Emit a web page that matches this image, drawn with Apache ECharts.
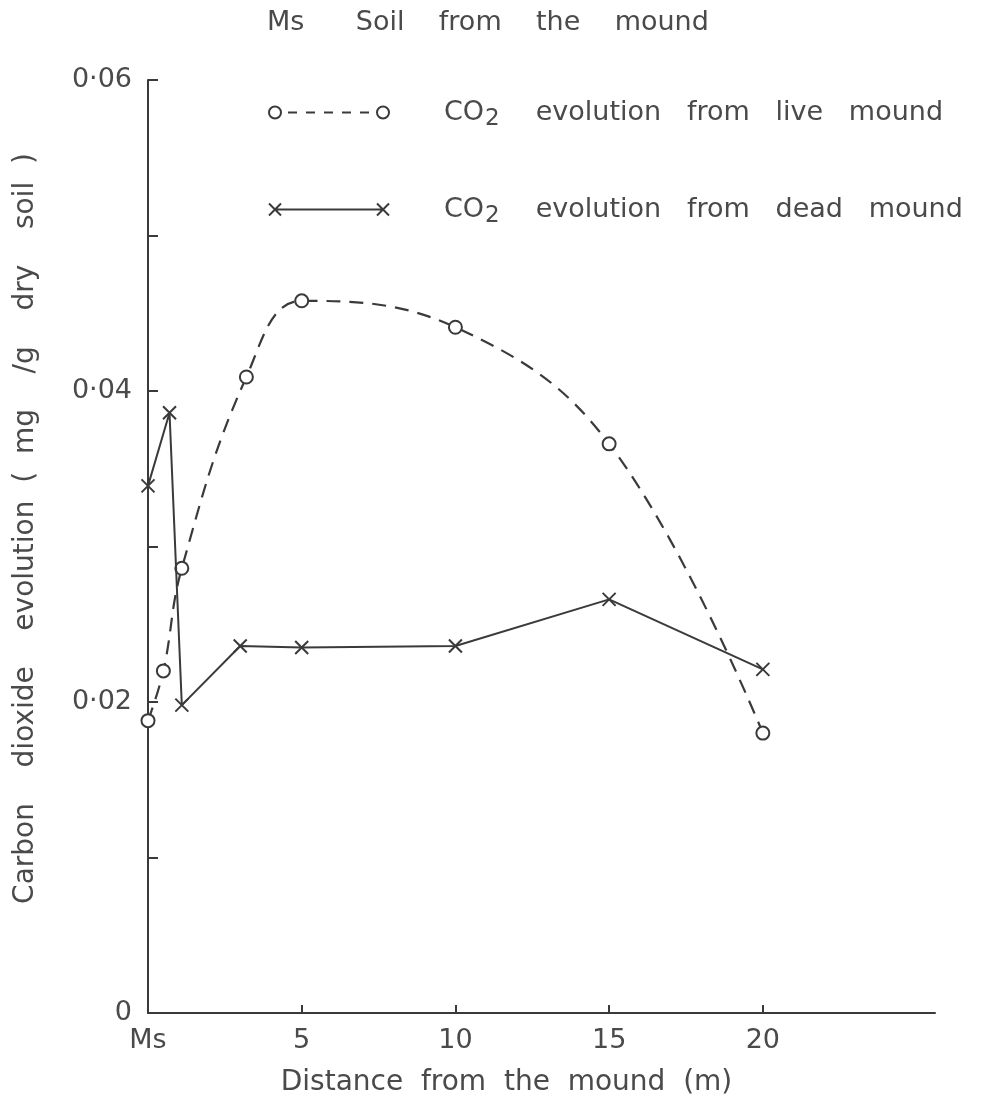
<!DOCTYPE html>
<html>
<head>
<meta charset="utf-8">
<title>Carbon dioxide evolution vs distance from the mound</title>
<script src="https://cdn.jsdelivr.net/npm/echarts@6/dist/echarts.min.js"></script>
<style>
  html, body { margin: 0; padding: 0; background: #ffffff; }
  #chart { width: 989px; height: 1112px; }
</style>
</head>
<body>
<div id="chart"></div>
<script>
// Distances (m) from the mound; 0 is the mound soil itself (Ms)
const distLive = [0, 0.5, 1.1, 3.2, 5, 10, 15, 20];
const co2Live  = [0.0188, 0.0220, 0.0286, 0.0409, 0.0458, 0.0441, 0.0366, 0.0180];

const distDead = [0, 0.7, 1.1, 3.0, 5, 10, 15, 20];
const co2Dead  = [0.0339, 0.0386, 0.0198, 0.0236, 0.0235, 0.0236, 0.0266, 0.0221];

const seriesNames = ['CO2 evolution from live mound', 'CO2 evolution from dead mound'];
const legendTails = ['evolution   from   live   mound', 'evolution   from   dead   mound'];

const xTickValues  = [5, 10, 15, 20];
const xLabelValues = [0, 5, 10, 15, 20];
const xLabelText   = ['Ms', '5', '10', '15', '20'];
const yLabelValues = [0, 0.02, 0.04, 0.06];
const yLabelText   = ['0', '0·02', '0·04', '0·06'];

const titleText = 'Ms      Soil    from    the    mound';
const xName = 'Distance  from  the  mound  (m)';
const yName = 'Carbon    dioxide    evolution  (  mg    /g    dry    soil  )';

const INK = '#3a3a3a';
const TEXT = '#4a4a4a';
const FONT = 'DejaVu Sans';

function pairs(xs, ys) { return xs.map((x, i) => [x, ys[i]]); }

// legend keys: open circles joined by dashes, and crosses joined by a line
const iconLive = 'path://M0 6 A6 6 0 1 1 12 6 A6 6 0 1 1 0 6 Z ' +
  'M19 6 L28 6 M37 6 L46 6 M55 6 L64 6 M73 6 L82 6 M91 6 L100 6 ' +
  'M108 6 A6 6 0 1 1 120 6 A6 6 0 1 1 108 6 Z';
const iconDead = 'path://M0 0 L12 12 M0 12 L12 0 M6 6 L114 6 M108 0 L120 12 M108 12 L120 0';

const legendRich = {
  g: { width: 50, fontSize: 27, fontFamily: FONT, lineHeight: 36 },
  g2: { width: 36, fontSize: 27, fontFamily: FONT, lineHeight: 36 },
  t: { fontSize: 27, fontFamily: FONT, color: TEXT, lineHeight: 36, verticalAlign: 'middle' },
  s: { fontSize: 23, fontFamily: FONT, color: TEXT, lineHeight: 36, verticalAlign: 'bottom', padding: [0, 0, 0, 1] }
};

function makeLegend(idx, icon, top) {
  return {
    data: [seriesNames[idx]],
    left: 263,
    top: top,
    icon: icon,
    itemWidth: 120,
    itemHeight: 12,
    selectedMode: false,
    itemStyle: { color: 'rgba(0,0,0,0)', borderColor: INK, borderWidth: 2 },
    textStyle: { fontSize: 27, fontFamily: FONT, color: TEXT, rich: legendRich },
    formatter: function () {
      return '{g| }{t|CO}{s|2}{g2| }{t|' + legendTails[idx] + '}';
    }
  };
}

const chart = echarts.init(document.getElementById('chart'), null, { renderer: 'canvas' });

chart.setOption({
  backgroundColor: '#ffffff',
  animation: false,
  title: {
    text: titleText,
    left: 262,
    top: 4,
    textStyle: { fontSize: 27, fontWeight: 'normal', fontFamily: FONT, color: TEXT }
  },
  legend: [makeLegend(0, iconLive, 94), makeLegend(1, iconDead, 191)],
  grid: { left: 148, right: 54, top: 80, bottom: 99, containLabel: false, outerBoundsMode: 'none' },
  xAxis: {
    type: 'value',
    min: 0,
    max: 25.6,
    interval: 5,
    splitLine: { show: false },
    axisLine: { show: true, lineStyle: { color: INK, width: 2 } },
    axisTick: { show: true, inside: true, length: 8, customValues: xTickValues, lineStyle: { color: INK, width: 2 } },
    axisLabel: {
      customValues: xLabelValues,
      margin: 14,
      fontSize: 27,
      fontFamily: FONT,
      color: TEXT,
      formatter: function (v) {
        const i = xLabelValues.indexOf(v);
        return i >= 0 ? xLabelText[i] : '';
      }
    },
    name: xName,
    nameLocation: 'middle',
    nameGap: 56,
    nameTextStyle: { fontSize: 28, fontFamily: FONT, color: TEXT, padding: [0, 70, 0, 0] }
  },
  yAxis: {
    type: 'value',
    min: 0,
    max: 0.06,
    interval: 0.01,
    splitLine: { show: false },
    axisLine: { show: true, lineStyle: { color: INK, width: 2 } },
    axisTick: { show: true, inside: true, length: 10, lineStyle: { color: INK, width: 2 } },
    axisLabel: {
      customValues: yLabelValues,
      margin: 16,
      fontSize: 27,
      fontFamily: FONT,
      color: TEXT,
      formatter: function (v) {
        let best = 0;
        yLabelValues.forEach((y, i) => { if (Math.abs(y - v) < Math.abs(yLabelValues[best] - v)) best = i; });
        return yLabelText[best];
      }
    },
    name: yName,
    nameLocation: 'middle',
    nameGap: 108,
    nameTextStyle: { fontSize: 28, fontFamily: FONT, color: TEXT, padding: [0, 0, 0, 36] }
  },
  series: [
    {
      name: seriesNames[0],
      type: 'line',
      data: pairs(distLive, co2Live),
      smooth: 0.4,
      clip: false,
      symbol: 'emptyCircle',
      symbolSize: 13,
      lineStyle: { color: INK, width: 2.2, type: [14, 9] },
      itemStyle: { color: INK, borderColor: INK, borderWidth: 2 },
      z: 2
    },
    {
      name: seriesNames[1],
      type: 'line',
      data: pairs(distDead, co2Dead),
      smooth: false,
      clip: false,
      symbol: 'path://M0 0 L10 10 M0 10 L10 0',
      symbolSize: 13,
      lineStyle: { color: INK, width: 2 },
      itemStyle: { color: INK, borderColor: INK, borderWidth: 2 },
      z: 3
    }
  ]
});
</script>
</body>
</html>
